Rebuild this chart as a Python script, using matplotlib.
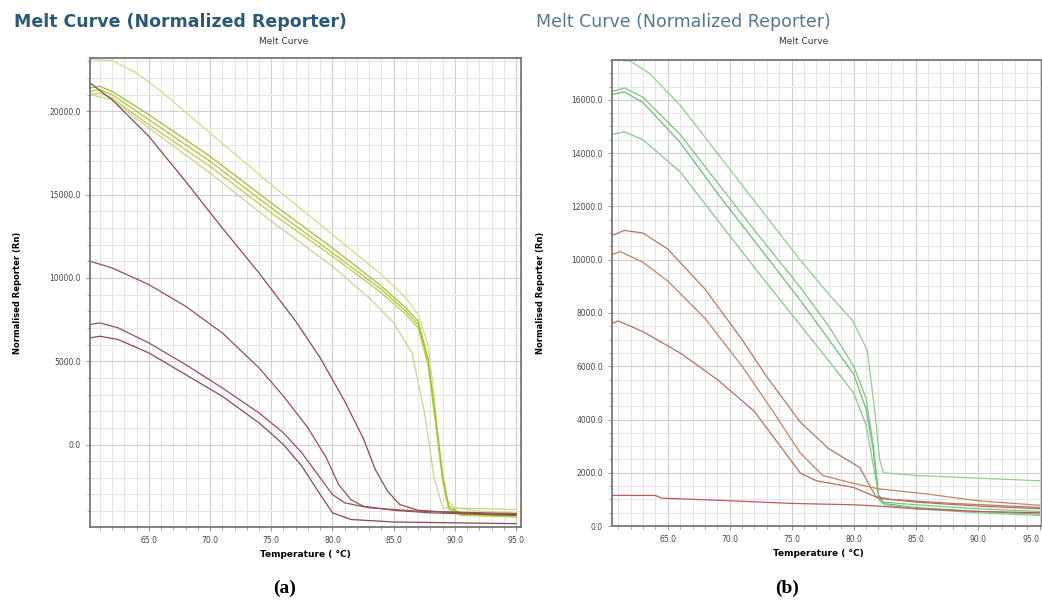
import numpy as np
import matplotlib.pyplot as plt
from matplotlib.ticker import MultipleLocator, FormatStrFormatter

# ---- panel (a) data: temperature (C) / normalised reporter (Rn) ----
a_green1_t = [60.2, 62, 64, 66, 70, 75, 80, 84, 86, 87, 87.8, 88.3, 88.8, 89.3, 90, 92, 95]
a_green1_y = [23100, 23050, 22300, 21200, 18700, 15600, 12600, 10200, 8800, 7800, 6000, 3000, -1000, -3300, -3800, -4000, -4100]
a_green2_t = [60.2, 61, 62, 65, 70, 75, 80, 84, 86, 87, 87.8, 88.5, 89, 89.5, 90.5, 95]
a_green2_y = [21200, 21300, 21000, 19500, 17000, 14200, 11500, 9300, 8000, 7200, 5000, 1000, -2000, -3800, -4200, -4300]
a_green3_y = [21000, 21100, 20800, 19200, 16700, 13900, 11300, 9100, 7800, 7000, 4800, 800, -2200, -3900, -4250, -4350]
a_green4_y = [21400, 21500, 21200, 19800, 17300, 14500, 11800, 9500, 8200, 7400, 5200, 1200, -1800, -3700, -4150, -4250]
a_green5_t = [60.2, 62, 65, 70, 75, 80, 83, 85, 86.5, 87.5, 88.3, 89, 95]
a_green5_y = [21000, 20700, 19000, 16300, 13400, 10700, 8800, 7300, 5500, 2000, -2000, -3800, -3900]

a_red1_t = [60.2, 62, 65, 68, 71, 74, 77, 79, 81, 82.5, 83.5, 84.5, 85.5, 87, 89, 92, 95]
a_red1_y = [21700, 20700, 18500, 15800, 13000, 10300, 7400, 5200, 2600, 400, -1500, -2800, -3600, -3950, -4050, -4150, -4200]
a_red2_t = [60.2, 62, 65, 68, 71, 74, 76, 78, 79.5, 80.5, 81.5, 82.5, 85, 88, 95]
a_red2_y = [11000, 10600, 9600, 8300, 6700, 4600, 2900, 1000, -800, -2400, -3300, -3700, -3950, -4100, -4250]
a_red3_t = [60.2, 61, 62.5, 65, 68, 71, 74, 76, 77.5, 79, 80, 81, 83, 87, 95]
a_red3_y = [7200, 7300, 7000, 6100, 4800, 3400, 1900, 700, -500, -2000, -3000, -3500, -3800, -4000, -4150]
a_red4_t = [60.2, 61, 62.5, 65, 68, 71, 74, 76, 77.5, 79, 80, 81.5, 85, 95]
a_red4_y = [6400, 6500, 6300, 5500, 4200, 2900, 1300, 0, -1300, -3000, -4100, -4500, -4650, -4750]

# ---- panel (b) data ----
b_green1_t = [60.5, 62, 63.5, 66, 69, 72, 75.7, 78, 79.9, 81.1, 81.7, 82.1, 82.4, 85, 90, 95]
b_green1_y = [17500, 17450, 17000, 15800, 14000, 12200, 9975, 8700, 7725, 6600, 4350, 2500, 2000, 1900, 1800, 1700]
b_green2_t = [60.5, 61.5, 63, 66, 69, 72, 75.7, 78, 80, 81, 81.6, 82, 82.4, 85, 90, 95]
b_green2_y = [16300, 16450, 16100, 14700, 12900, 11100, 8960, 7500, 6000, 4800, 3000, 1200, 900, 800, 650, 550]
b_green3_y = [16200, 16300, 15900, 14400, 12500, 10700, 8475, 7000, 5700, 4400, 2800, 1100, 850, 700, 550, 450]
b_green4_t = [60.5, 61.5, 63, 66, 69, 72, 75.7, 78, 80, 81, 81.7, 82.1, 82.5, 85, 90, 95]
b_green4_y = [14700, 14800, 14500, 13300, 11500, 9700, 7540, 6200, 5000, 3800, 2000, 950, 800, 650, 500, 400]

b_red1_t = [60.5, 61.5, 63, 65, 68, 71, 73, 75.7, 78, 80.5, 81.2, 81.8, 83, 88, 95]
b_red1_y = [10900, 11100, 11000, 10400, 8900, 7000, 5600, 3900, 2900, 2200, 1600, 1100, 1000, 850, 700]
b_red2_t = [60.5, 61.2, 63, 65, 68, 71, 73.5, 75.7, 77.5, 80, 82, 86, 90, 95]
b_red2_y = [10200, 10300, 9900, 9200, 7800, 6000, 4300, 2740, 1900, 1600, 1400, 1200, 950, 780]
b_red3_t = [60.5, 61, 63, 66, 69, 72, 75.7, 77, 80, 82, 85, 90, 95]
b_red3_y = [7600, 7700, 7300, 6500, 5500, 4300, 1990, 1700, 1450, 1050, 900, 750, 650]
b_red4_t = [60.5, 64, 64.5, 70, 75, 80, 82, 85, 90, 95]
b_red4_y = [1150, 1150, 1050, 950, 850, 800, 750, 650, 550, 500]

xticks = [65, 70, 75, 80, 85, 90, 95]


def style_axes(ax, xlim, ylim, ymajor, yminor):
    ax.set_xlim(*xlim)
    ax.set_ylim(*ylim)
    ax.xaxis.set_major_locator(MultipleLocator(5))
    ax.xaxis.set_minor_locator(MultipleLocator(1))
    ax.yaxis.set_major_locator(MultipleLocator(ymajor))
    ax.yaxis.set_minor_locator(MultipleLocator(yminor))
    ax.xaxis.set_major_formatter(FormatStrFormatter('%.1f'))
    ax.yaxis.set_major_formatter(FormatStrFormatter('%.1f'))
    ax.grid(True, which='major', color='#cfcfcf', lw=0.8)
    ax.grid(True, which='minor', color='#e4e4e4', lw=0.7)
    ax.set_axisbelow(True)
    ax.tick_params(which='both', labelsize=5.5, labelcolor='#444444', color='#999999')
    ax.tick_params(which='major', length=3)
    ax.tick_params(which='minor', length=2)
    for s in ax.spines.values():
        s.set_color('#777777')
        s.set_linewidth(1.3)
    ax.set_ylabel('Normalised Reporter (Rn)', fontsize=6, fontweight='bold')
    ax.set_xlabel('Temperature ( \u00b0C)', fontsize=6.5, fontweight='bold')


fig = plt.figure(figsize=(10.42, 6.11), dpi=100)

# panel (a)
ax1 = fig.add_axes([0.0864, 0.1375, 0.4136, 0.7676])
ax1.plot(a_green1_t, a_green1_y, color='#cfdc8a', lw=0.9)
ax1.plot(a_green2_t, a_green2_y, color='#a9c93a', lw=0.9)
ax1.plot(a_green2_t, a_green3_y, color='#b6d04a', lw=0.9)
ax1.plot(a_green2_t, a_green4_y, color='#9dc234', lw=0.9)
ax1.plot(a_green5_t, a_green5_y, color='#c9d48e', lw=0.9)
ax1.plot(a_red1_t, a_red1_y, color='#8e4b4b', lw=0.9)
ax1.plot(a_red2_t, a_red2_y, color='#94504e', lw=0.9)
ax1.plot(a_red3_t, a_red3_y, color='#9a4e56', lw=0.9)
ax1.plot(a_red4_t, a_red4_y, color='#8a4a50', lw=0.9)
style_axes(ax1, (60.2, 95.4), (-4950, 23200), 5000, 1000)
ax1.yaxis.set_label_coords(-0.158, 0.5)
ax1.xaxis.set_label_coords(0.5, -0.05)

# panel (b)
ax2 = fig.add_axes([0.5873, 0.139, 0.4127, 0.763])
ax2.plot(b_green1_t, b_green1_y, color='#8fd08f', lw=0.9)
ax2.plot(b_green2_t, b_green2_y, color='#7cc87c', lw=0.9)
ax2.plot(b_green2_t, b_green3_y, color='#6dbf78', lw=0.9)
ax2.plot(b_green4_t, b_green4_y, color='#86c88e', lw=0.9)
ax2.plot(b_red1_t, b_red1_y, color='#b07a66', lw=0.9)
ax2.plot(b_red2_t, b_red2_y, color='#c08462', lw=0.9)
ax2.plot(b_red3_t, b_red3_y, color='#b27060', lw=0.9)
ax2.plot(b_red4_t, b_red4_y, color='#c05a5a', lw=0.9)
style_axes(ax2, (60.5, 95.2), (0, 17500), 2000, 500)
ax2.yaxis.set_label_coords(-0.156, 0.5)
ax2.xaxis.set_label_coords(0.48, -0.05)

for ax in (ax1, ax2):
    ax.set_xticks(xticks)

# last label of panel (b) sits at the figure edge; keep it inside
fig.canvas.draw()
ax2.get_xticklabels()[-1].set_horizontalalignment('right')

# titles
fig.text(0.013, 0.955, 'Melt Curve (Normalized Reporter)', fontsize=12.5,
         fontweight='bold', color='#2a5a78')
fig.text(0.514, 0.955, 'Melt Curve (Normalized Reporter)', fontsize=12.5,
         color='#55788e')
fig.text(0.272, 0.928, 'Melt Curve', fontsize=6.5, ha='center', color='#333333')
fig.text(0.771, 0.928, 'Melt Curve', fontsize=6.5, ha='center', color='#333333')

# panel letters
fig.text(0.2735, 0.03, '(a)', fontsize=14, fontweight='bold',
         family='Liberation Serif', ha='center')
fig.text(0.755, 0.03, '(b)', fontsize=14, fontweight='bold',
         family='Liberation Serif', ha='center')

fig.savefig('out.png', dpi=100)
